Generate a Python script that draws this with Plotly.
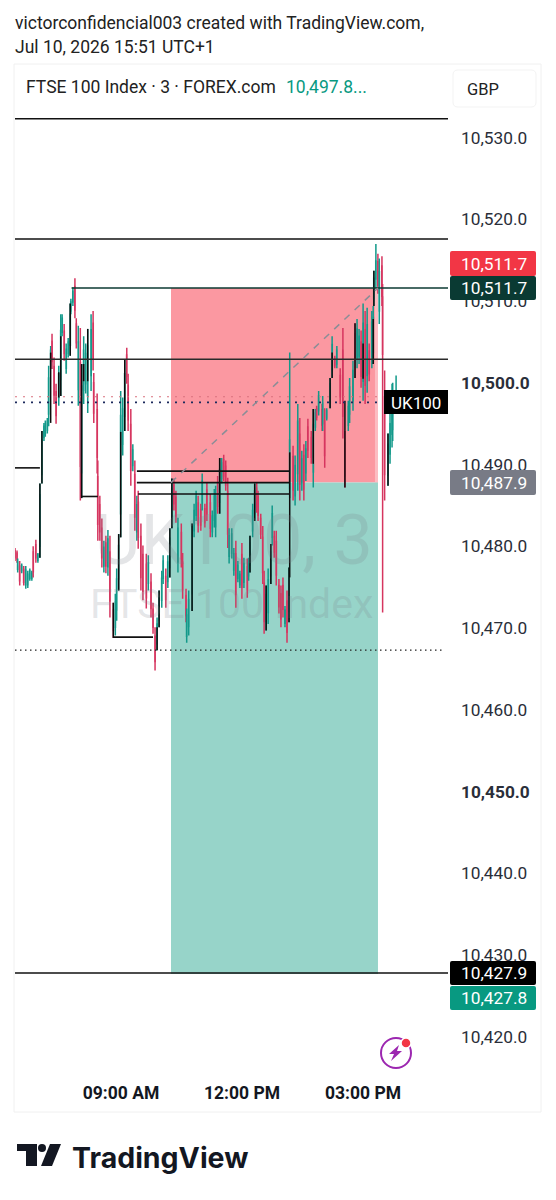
import plotly.graph_objects as go

# ---------- data ----------
# minutes since the left edge of the pane for each bar
bar_minutes = [0,3,4,7,10,13,16,19,22,25,27,31,34,37,40,43,45,48,50,53,55,58,61,65,68,70,73,76,79,82,83,86,89,91,94,97,99,102,105,108,
113,116,117,122,123,126,129,132,135,138,141,146,149,151,154,157,160,163,166,168,172,175,178,181,183,187,190,195,198,202,205,208,211,214,218,220,224,227,230,233,
236,239,242,247,249,254,255,258,263,266,269,272,276,278,282,285,290,293,296,298,301,304,307,310,313,316,318,322,325,328,331,334,337,340,345,347,349,353,356,359,
361,365,368,370,373,376,380,382,385,388,392,395,398,401,404,407,408,413,416,420,423,426,429,432,435,440,443,446,448,451,456,457,460,463,468,471,475,478,483,487,
490,495,497,502,505,508,511,514,517,520,523,526,530,532,533,536,539,541,545,546,549,554,557,560,561,566]
opens = [10479.5,10479.2,10477.2,10477.6,10477.0,10477.2,10475.3,10475.3,10476.1,10476.1,10479.3,10480.2,10478.3,10480.0,10488.8,10493.3,10493.8,10494.2,10496.2,10502.2,
10505.1,10502.0,10498.9,10498.2,10500.4,10506.2,10506.3,10501.8,10503.6,10504.6,10508.8,10509.9,10511.8,10507.2,10499.2,10502.5,10489.0,10499.1,10499.9,10498.4,
10500.9,10507.3,10500.0,10496.7,10488.5,10485.1,10482.2,10477.6,10480.4,10477.5,10479.3,10472.2,10470.1,10472.2,10476.0,10484.0,10492.5,10495.9,10503.4,10499.7,
10494.9,10489.9,10488.8,10481.8,10485.4,10481.2,10479.0,10477.8,10475.5,10475.6,10472.3,10469.0,10468.1,10471.0,10473.4,10476.1,10476.3,10475.7,10477.4,10483.4,
10487.5,10486.0,10478.1,10481.7,10478.1,10474.0,10469.0,10470.2,10474.2,10481.9,10483.8,10485.3,10484.5,10485.3,10484.6,10486.9,10485.3,10481.8,10483.2,10482.4,
10487.7,10485.4,10488.3,10490.6,10489.8,10486.7,10478.8,10479.2,10477.1,10479.1,10476.1,10475.3,10479.0,10475.6,10477.5,10476.4,10477.7,10481.9,10484.0,10487.1,
10486.1,10483.4,10481.1,10475.5,10470.8,10471.9,10476.4,10481.1,10481.2,10480.6,10475.2,10474.2,10475.2,10470.6,10473.3,10472.0,10487.0,10491.0,10486.2,10488.9,
10493.7,10487.8,10491.1,10489.0,10494.6,10493.3,10489.1,10494.6,10496.8,10496.6,10496.7,10495.0,10495.4,10495.7,10497.6,10501.6,10503.0,10502.3,10500.9,10504.0,
10492.7,10494.8,10496.2,10497.8,10506.0,10503.0,10503.2,10505.0,10500.2,10506.5,10500.9,10503.9,10503.2,10503.7,10510.3,10512.7,10514.8,10508.8,10514.3,10510.5,
10498.3,10488.7,10491.3,10493.7,10494.3,10497.0]
highs = [10479.8,10479.5,10478.5,10478.2,10477.9,10477.6,10477.6,10477.0,10477.3,10477.0,10480.0,10480.8,10479.2,10487.7,10494.1,10495.1,10495.4,10495.7,10502.1,10504.5,
10506.0,10503.1,10499.9,10502.1,10508.4,10508.4,10507.2,10504.8,10505.5,10509.7,10510.3,10511.7,10512.8,10507.9,10507.0,10506.7,10502.3,10505.7,10504.8,10506.6,
10508.4,10508.8,10501.2,10498.7,10490.5,10486.2,10483.4,10480.7,10481.3,10482.0,10481.3,10473.1,10474.2,10477.3,10481.5,10499.0,10498.2,10502.9,10504.3,10501.1,
10496.8,10492.5,10490.5,10486.2,10486.8,10482.8,10480.1,10479.1,10478.9,10476.7,10473.1,10470.1,10471.3,10474.6,10477.0,10478.9,10477.3,10478.9,10482.2,10488.3,
10488.3,10486.8,10483.5,10482.8,10479.2,10474.8,10472.4,10474.6,10482.8,10485.2,10486.8,10486.2,10485.2,10488.9,10485.2,10487.8,10486.4,10484.4,10487.0,10487.4,
10488.6,10490.8,10490.8,10491.2,10490.5,10488.4,10482.2,10482.2,10479.8,10480.7,10478.2,10477.0,10480.4,10478.6,10478.5,10478.6,10481.3,10485.2,10487.7,10487.8,
10486.8,10484.0,10482.5,10477.0,10475.2,10477.3,10480.3,10485.0,10481.9,10481.9,10476.0,10475.2,10476.2,10472.7,10474.6,10477.4,10503.7,10492.3,10491.1,10497.4,
10495.7,10491.7,10492.5,10492.9,10495.6,10494.1,10496.8,10496.8,10497.2,10499.0,10497.4,10498.4,10496.9,10496.9,10500.6,10505.7,10503.3,10504.5,10501.8,10506.7,
10494.1,10497.8,10500.6,10502.7,10507.3,10507.8,10506.6,10506.4,10509.7,10508.8,10509.2,10504.8,10508.8,10509.4,10513.7,10517.0,10515.8,10515.2,10515.5,10512.1,
10501.5,10493.8,10496.2,10499.9,10500.0,10500.9]
lows = [10478.2,10478.0,10476.8,10475.2,10476.7,10475.2,10474.8,10474.9,10475.8,10475.8,10476.2,10478.0,10478.0,10478.6,10487.7,10492.9,10493.4,10493.8,10494.7,10501.7,
10501.7,10497.4,10495.0,10497.2,10498.4,10505.7,10502.7,10501.1,10503.1,10503.3,10508.4,10509.4,10507.9,10504.2,10497.2,10485.6,10485.9,10497.4,10498.7,10496.3,
10499.0,10501.5,10495.1,10488.9,10480.7,10480.7,10477.4,10476.8,10476.7,10476.4,10471.3,10468.8,10469.1,10470.9,10474.6,10481.1,10491.1,10494.1,10499.9,10494.1,
10487.4,10489.2,10481.9,10480.7,10479.7,10474.6,10473.4,10472.4,10474.6,10471.3,10469.3,10464.8,10467.3,10470.1,10472.5,10475.4,10472.5,10474.9,10476.2,10482.2,
10484.4,10482.9,10476.8,10477.4,10473.6,10470.7,10468.2,10469.1,10472.1,10481.1,10483.1,10481.7,10481.9,10484.4,10482.3,10483.1,10481.1,10481.1,10482.3,10481.1,
10484.0,10484.0,10487.7,10488.0,10486.8,10479.8,10477.9,10478.5,10476.4,10472.5,10475.6,10474.9,10473.6,10474.9,10473.7,10475.8,10476.8,10481.1,10483.1,10484.1,
10483.1,10480.9,10475.4,10469.3,10469.7,10470.5,10475.4,10480.1,10478.6,10475.2,10471.8,10470.1,10471.3,10470.1,10468.2,10470.7,10485.9,10485.6,10485.0,10486.8,
10485.6,10486.8,10485.6,10488.0,10490.8,10490.1,10487.2,10494.1,10495.4,10496.0,10494.1,10494.1,10489.6,10495.4,10496.9,10500.6,10501.8,10501.8,10497.4,10493.2,
10487.2,10494.1,10495.1,10496.6,10500.6,10501.8,10502.3,10499.4,10497.8,10497.4,10498.8,10500.2,10501.8,10502.3,10509.4,10511.6,10510.9,10507.2,10509.4,10471.9,
10485.6,10487.4,10490.1,10492.1,10492.9,10496.9]
closes = [10478.6,10478.4,10478.1,10475.8,10477.6,10475.6,10477.1,10476.6,10477.0,10476.7,10476.9,10478.6,10479.0,10486.3,10493.0,10494.7,10495.0,10495.3,10500.6,10504.0,
10502.6,10498.5,10496.0,10501.1,10506.4,10507.9,10503.6,10504.1,10505.0,10508.4,10509.9,10511.2,10508.9,10504.9,10505.0,10489.8,10499.6,10504.0,10503.6,10504.5,
10506.5,10503.0,10496.3,10490.9,10482.7,10481.8,10478.6,10479.9,10477.6,10480.9,10473.3,10469.7,10473.2,10476.0,10480.1,10496.0,10496.8,10501.1,10500.8,10495.5,
10489.3,10491.8,10483.6,10485.1,10481.1,10476.2,10474.5,10473.7,10478.0,10472.4,10470.1,10465.9,10470.5,10473.7,10476.1,10478.2,10473.5,10478.1,10481.0,10487.1,
10485.2,10483.7,10482.2,10478.5,10474.7,10471.5,10471.6,10473.5,10480.7,10484.4,10486.1,10482.6,10482.6,10488.0,10482.9,10484.0,10482.2,10483.7,10486.1,10486.1,
10484.9,10489.4,10490.2,10488.6,10487.5,10481.5,10481.3,10481.5,10479.1,10474.1,10477.7,10476.6,10475.0,10477.9,10474.7,10478.0,10480.4,10484.4,10486.8,10484.8,
10483.8,10481.5,10476.8,10470.8,10474.1,10475.9,10479.3,10484.0,10479.3,10476.5,10472.6,10471.1,10472.3,10472.2,10469.5,10476.1,10493.0,10486.9,10489.9,10495.3,
10487.6,10490.7,10487.0,10491.9,10491.8,10490.9,10494.9,10496.3,10495.8,10498.4,10494.8,10497.5,10491.1,10496.6,10499.9,10504.7,10502.1,10504.0,10498.3,10495.9,
10488.6,10497.1,10499.5,10501.5,10501.9,10506.6,10505.7,10500.8,10507.3,10499.7,10507.1,10501.1,10507.4,10508.0,10512.8,10514.9,10511.9,10513.6,10510.6,10503.5,
10488.8,10492.5,10495.0,10498.3,10498.6,10497.8]

tick_prices = [10530,10520,10510,10500,10490,10480,10470,10460,10450,10440,10430,10420]
tick_texts = ["10,530.0","10,520.0","10,510.0","<b>10,500.0</b>","10,490.0","10,480.0","10,470.0","10,460.0","<b>10,450.0</b>","10,440.0","10,430.0","10,420.0"]
time_ticks = [157.4,337.1,516.8]
time_labels = ["09:00 AM","12:00 PM","03:00 PM"]

stop_price = 10511.6
entry_price = 10487.8
target_price = 10427.7
position_start = 231.7
position_end = 539.1
position_fade = 534.6
level_high_a = 10532.3
level_high_b = 10517.6
level_mid = 10502.9
level_low = 10427.8

# black structure segments: bar, price, price
seg_bars = [13,14,19,23,24,29,36,37,39,51,54,55,57,72,73,78,79,88,101,116,118,124,126,135,136,146,154,155,160,164,168,173,174,181]
seg_tops = [10487.7,10494.1,10503.7,10501.3,10505.7,10509.7,10502.3,10502.3,10506.6,10473.1,10481.5,10494.0,10502.9,10470.1,10474.6,10482.2,10488.3,10482.8,10490.8,10481.3,10487.7,10475.2,10480.3,10477.4,10491.5,10496.8,10500.6,10503.7,10497.8,10507.3,10504.8,10507.8,10513.7,10493.8]
seg_bottoms = [10478.6,10487.7,10495.1,10498.2,10498.4,10503.3,10485.9,10500.2,10500.2,10468.8,10474.6,10481.1,10494.1,10467.3,10470.1,10476.2,10482.2,10472.1,10484.0,10476.8,10483.1,10469.7,10475.4,10470.7,10476.2,10490.1,10496.9,10500.6,10487.2,10500.6,10500.5,10502.3,10509.4,10487.4]
# horizontal structure levels: price, first bar, last bar
hz_prices = [10489.6,10486.1,10468.9,10489.2,10487.8,10486.4]
hz_starts = [0,36,51,63,63,64]
hz_ends = [13,44,70,136,136,136]

# ---------- geometry ----------
W, H = 556, 1200
T_MAX = 643.1
Y_TOP, Y_BOT = 10534.6, 10416.8
def px(x): return x / W
def py(y): return 1 - y / H
def rrect(x0, y0, x1, y1, r=2):
    return (f"M {px(x0+r)} {py(y0)} L {px(x1-r)} {py(y0)} Q {px(x1)} {py(y0)} {px(x1)} {py(y0+r)} "
            f"L {px(x1)} {py(y1-r)} Q {px(x1)} {py(y1)} {px(x1-r)} {py(y1)} L {px(x0+r)} {py(y1)} "
            f"Q {px(x0)} {py(y1)} {px(x0)} {py(y1-r)} L {px(x0)} {py(y0+r)} Q {px(x0)} {py(y0)} {px(x0+r)} {py(y0)} Z")
def poly(pts):
    return "M " + " L ".join(f"{px(a)} {py(b)}" for a, b in pts) + " Z"

FONT = "Roboto"
fig = go.Figure()

fig.add_trace(go.Candlestick(
    x=bar_minutes, open=opens, high=highs, low=lows, close=closes,
    increasing=dict(line=dict(color="#12998a", width=1.5), fillcolor="#12998a"),
    decreasing=dict(line=dict(color="#d6355f", width=1.5), fillcolor="#d6355f"),
    whiskerwidth=0, hoverinfo="skip", showlegend=False))

seg_x, seg_y = [], []
for b, t, l in zip(seg_bars, seg_tops, seg_bottoms):
    seg_x += [bar_minutes[b], bar_minutes[b], None]; seg_y += [t, l, None]
fig.add_trace(go.Scatter(x=seg_x, y=seg_y, mode="lines", line=dict(color="#0c0c0c", width=1.5), showlegend=False, hoverinfo="skip"))

hz_x, hz_y = [], []
for p, s, e in zip(hz_prices, hz_starts, hz_ends):
    hz_x += [bar_minutes[s], bar_minutes[e], None]; hz_y += [p, p, None]
fig.add_trace(go.Scatter(x=hz_x, y=hz_y, mode="lines", line=dict(color="#111111", width=1.6), showlegend=False, hoverinfo="skip"))

def level(p, x0, x1, color, width, dash="solid"):
    fig.add_trace(go.Scatter(x=[x0, x1], y=[p, p], mode="lines", line=dict(color=color, width=width, dash=dash), showlegend=False, hoverinfo="skip"))

level(level_high_a, 0, T_MAX, "#111111", 1.5)
level(level_high_b, 0, T_MAX, "#111111", 1.5)
level(stop_price, 84, T_MAX, "#0b3a32", 1.5)
level(level_mid, 0, T_MAX, "#2a2a2a", 1.5)
level(level_low, 0, T_MAX, "#111111", 1.5)
level(10498.3, 0, 542, "#d9707e", 1.2, "2px,6px")
level(10497.6, 0, 546, "#1c2a5c", 1.8, "2px,6px")
level(10467.3, 0, 638.6, "#222222", 1.2, "1.5px,3.5px")

fig.add_trace(go.Scatter(x=[position_start, position_end], y=[entry_price, stop_price], mode="lines",
                         line=dict(color="#8a8d96", width=1.5, dash="7px,7px"), showlegend=False, hoverinfo="skip"))

shapes = [
    dict(type="rect", xref="paper", yref="paper", x0=px(14), x1=px(541), y0=py(1112), y1=py(64),
         line=dict(color="#f0f0f0", width=1), fillcolor="white", layer="below"),
    dict(type="rect", xref="x", yref="y", x0=position_start, x1=position_end, y0=entry_price, y1=stop_price,
         fillcolor="#fb98a1", line=dict(width=0), layer="below"),
    dict(type="rect", xref="x", yref="y", x0=position_fade, x1=position_end, y0=entry_price, y1=stop_price,
         fillcolor="#fcbcc2", line=dict(width=0), layer="below"),
    dict(type="rect", xref="x", yref="y", x0=position_start, x1=position_end, y0=target_price, y1=entry_price,
         fillcolor="#97d4c9", line=dict(width=0), layer="below"),
    dict(type="path", xref="paper", yref="paper", path=rrect(453, 70, 536, 107, 5), fillcolor="white",
         line=dict(color="#f3f3f3", width=1), layer="above"),
]
labels = [
    (450, 251, 536, 276, "#f23645", "10,511.7"),
    (450, 276, 536, 300, "#0a3a33", "10,511.7"),
    (450, 470, 536, 495, "#787b86", "10,487.9"),
    (450, 961, 536, 985, "#000000", "10,427.9"),
    (450, 986, 536, 1010, "#089981", "10,427.8"),
]
for x0, y0, x1, y1, c, _ in labels:
    shapes.append(dict(type="path", xref="paper", yref="paper", path=rrect(x0, y0, x1, y1), fillcolor=c, line=dict(width=0), layer="above"))
shapes.append(dict(type="rect", xref="paper", yref="paper", x0=px(384), x1=px(448), y0=py(414), y1=py(390),
                   fillcolor="#000000", line=dict(width=0), layer="above"))
# flash icon
shapes += [
    dict(type="circle", xref="paper", yref="paper", x0=px(381), x1=px(411), y0=py(1068), y1=py(1038),
         line=dict(color="#9c27b0", width=2), fillcolor="rgba(0,0,0,0)", layer="above"),
    dict(type="path", xref="paper", yref="paper", path=poly([(399,1045),(389,1054),(394,1054),(391,1061),(402,1051),(397,1051)]),
         fillcolor="#9c27b0", line=dict(width=0), layer="above"),
    dict(type="circle", xref="paper", yref="paper", x0=px(401), x1=px(411), y0=py(1048), y1=py(1038),
         fillcolor="#f23645", line=dict(color="white", width=1.5), layer="above"),
    # logo
    dict(type="path", xref="paper", yref="paper", path=poly([(17,1144),(37,1144),(37,1166),(26,1166),(26,1151),(17,1151)]),
         fillcolor="#131722", line=dict(width=0), layer="above"),
    dict(type="circle", xref="paper", yref="paper", x0=px(38), x1=px(46), y0=py(1152), y1=py(1144),
         fillcolor="#131722", line=dict(width=0), layer="above"),
    dict(type="path", xref="paper", yref="paper", path=poly([(50,1144),(61,1144),(52,1166),(41,1166)]),
         fillcolor="#131722", line=dict(width=0), layer="above"),
]

def text(x, y, s, size, color="#222222", anchor="left", **font):
    return dict(xref="paper", yref="paper", x=px(x), y=py(y), text=s, showarrow=False, xanchor=anchor, yanchor="middle",
                borderpad=0, font=dict(family=font.pop("family", FONT), size=size, color=color, **font))

annotations = [
    text(14, 23, "victorconfidencial003 created with TradingView.com,", 17.5),
    text(14, 47, "Jul 10, 2026 15:51 UTC+1", 17.5),
    text(25, 87, "FTSE 100 Index · 3 · FOREX.com", 17.5),
    text(285, 87, "10,497.8...", 17.5, "#089981"),
    text(466, 89, "GBP", 16.5),
    text(94, 540, "UK100, 3", 70, "rgba(120,123,134,0.20)"),
    text(89, 604, "FTSE 100 Index", 41, "rgba(120,123,134,0.20)"),
    text(416, 403, "UK100", 17, "white", anchor="center"),
    text(71, 1157, "TradingView", 28.5, "#131722", family="Inter", weight=700),
]
for x0, y0, x1, y1, c, s in labels:
    annotations.append(text(494, (y0 + y1) / 2, s, 17.3, "white", anchor="center"))

fig.update_layout(
    width=W, height=H, margin=dict(l=0, r=0, t=0, b=0), paper_bgcolor="white", plot_bgcolor="rgba(0,0,0,0)",
    showlegend=False, shapes=shapes, annotations=annotations,
    xaxis=dict(domain=[px(15), px(448)], range=[0, T_MAX], rangeslider=dict(visible=False), showgrid=False, zeroline=False,
               showline=False, tickmode="array", tickvals=time_ticks, ticktext=[f"<b>{t}</b>" for t in time_labels],
               ticks="", ticklabelstandoff=17, tickfont=dict(family=FONT, size=17.5, color="#131722"), tickangle=0),
    yaxis=dict(domain=[py(1063), py(100)], range=[Y_BOT, Y_TOP], side="right", showgrid=False, zeroline=False, showline=False,
               tickmode="array", tickvals=tick_prices, ticktext=tick_texts, ticks="", ticklabelstandoff=12,
               tickfont=dict(family=FONT, size=17.3, color="#2a2e39")),
)
fig.write_html("out.html", config={"displayModeBar": False}, post_script="document.body.style.margin='0';")
